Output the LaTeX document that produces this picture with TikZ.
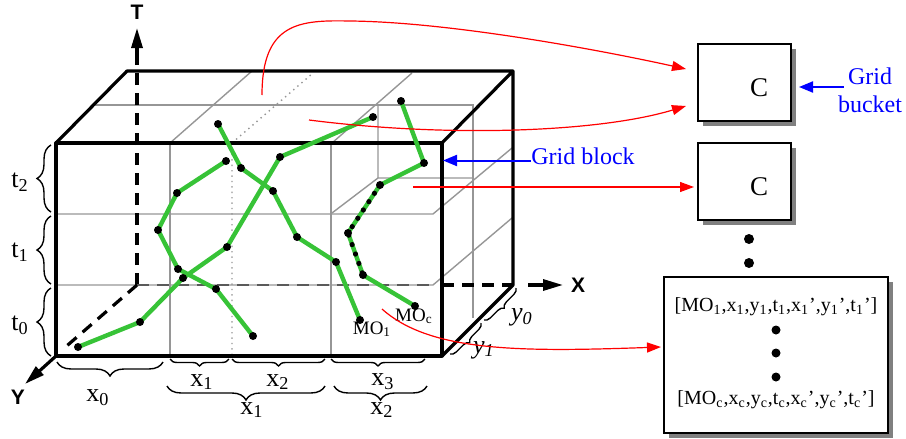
\documentclass[tikz,border=0pt]{standalone}
\usepackage{fontspec}
\setmainfont{Liberation Serif}
\setsansfont{Liberation Sans}
\usetikzlibrary{arrows.meta,decorations.pathreplacing,shadows}
\definecolor{movegreen}{RGB}{55,195,55}
\definecolor{gridgray}{RGB}{150,150,150}
\newcommand{\tsub}[1]{\textsubscript{#1}}

\begin{document}
\begin{tikzpicture}[x=0.5pt, y=-0.5pt,
        cube/.style={line width=1.6pt, line join=round},
        gridln/.style={draw=gridgray, line width=0.7pt},
        axisln/.style={line width=1.6pt, dash pattern=on 6pt off 4pt},
        axisarr/.style={line width=1.6pt, -{Triangle[length=10pt,width=5.5pt]}},
        trace/.style={draw=movegreen, line width=2.2pt, line join=round},
        redarr/.style={draw=red, line width=0.6pt, -{Triangle[length=7pt,width=5pt]}},
        bluearr/.style={draw=blue, line width=1pt, -{Triangle[length=7pt,width=5.5pt]}},
        bucket/.style={draw, line width=1pt, fill=white, minimum width=46.5pt,
                       minimum height=38.5pt, drop shadow={shadow xshift=2.5pt,
                       shadow yshift=-2.5pt, fill=black!50, opacity=1}},
        bracket/.style={decorate, decoration={brace, amplitude=#1}, line width=0.7pt},
        lbl/.style={inner sep=0pt, font=\fontsize{13}{15}\selectfont},
        axlbl/.style={inner sep=0pt, font=\sffamily\bfseries\fontsize{10.5}{12}\selectfont},
        bluelbl/.style={inner sep=0pt, text=blue, font=\fontsize{12}{14}\selectfont},
        molbl/.style={inner sep=0pt, font=\fontsize{9.5}{11}\selectfont},
        rec/.style={inner sep=0pt, font=\fontsize{10}{12}\selectfont},
        bigdot/.style={circle, fill=black, inner sep=0pt, minimum size=#1}]
    \useasboundingbox (0,0) rectangle (906,439);
    \coordinate (ftl) at (56,143);
    \coordinate (ftr) at (442,143);
    \coordinate (fbr) at (442,356);
    \coordinate (fbl) at (56,356);
    \coordinate (btl) at (127,71);
    \coordinate (btr) at (513,71);
    \coordinate (bbr) at (513,285);
    \coordinate (orig) at (137,285);
    \coordinate (blk) at (443,160.5);
    % grid planes
    \draw[gridln] (56,214) -- (433,214) -- (512,148);
    \draw[gridln] (56,285) -- (433,285) -- (512,218);
    \draw[gridln] (170,143) -- (170,356) (331,143) -- (331,356);
    \draw[gridln, dotted] (232,143) -- (232,356) (232,143) -- (313,73);
    \draw[gridln] (170,143) -- (252,71) (332,143) -- (412,73);
    \draw[gridln] (93,105) -- (473,105) -- (473,318);
    \draw[gridln] (378,105) -- (378,178) -- (473,178) (378,178) -- (332,213);
    % axes
    \draw[axisln] (orig) -- (137,52);
    \draw[axisarr] (137,54) -- (137,28);
    \draw[axisln, draw=gridgray!60!black, line width=1.2pt] (orig) -- (433,285);
    \draw[axisln] (442,285) -- (bbr);
    \draw[axisarr] (528,285) -- (563,285);
    \draw[axisln] (orig) -- (62,350);
    \draw[axisarr] (fbl) -- (25,384);
    \node[axlbl] (tlab) at (137,12) {T};
    \node[axlbl] (xlab) at (578,285) {X};
    \node[axlbl] (ylab) at (18,397) {Y};
    % cube
    \draw[cube] (ftl) rectangle (fbr);
    \draw[cube] (ftl) -- (btl) -- (btr) -- (ftr) (btr) -- (bbr) -- (fbr);
    % moving objects
    \foreach \nm/\px/\py in {a1/78/347, a2/140/322, a3/183/278, a4/227/247, a5/280/157, a6/373/117,
                             b1/226/161, b2/177/193, b3/158/230, b4/178/269, b5/216/289, b6/253/336,
                             c1/218/124, c2/241/168, c3/273/191, c4/297/237, c5/336/262, c6/360/320,
                             d1/401/101, d2/424/163, d3/380/185, d4/348/233, d5/363/275, d6/415/306}
        \coordinate (\nm) at (\px,\py);
    \draw[trace] (a1) -- (a2) -- (a3) -- (a4) -- (a5) -- (a6);
    \draw[trace] (b1) -- (b2) -- (b3) -- (b4) -- (b5) -- (b6);
    \draw[trace] (c1) -- (c2) -- (c3) -- (c4) -- (c5) -- (c6);
    \draw[trace] (d1) -- (d2) -- (d3) -- (d4) -- (d5) -- (d6);
    \draw[line width=2.6pt, line cap=round, dash pattern=on 0pt off 5pt] (d3) -- (d4) -- (d5);
    \foreach \nm in {a1,a2,a3,a4,a5,a6,b1,b2,b3,b4,b5,b6,c1,c2,c3,c4,c5,c6,d1,d2,d3,d4,d5,d6}
        \fill (\nm) circle (2pt);
    \node[molbl] (mo1) at (372,329) {MO\tsub{1}};
    \node[molbl] (moc) at (414,316) {MO\tsub{c}};
    % braces
    \draw[bracket=7pt] (51,212) -- (51,145);
    \draw[bracket=7pt] (51,284) -- (51,216);
    \draw[bracket=7pt] (51,356) -- (51,288);
    \draw[bracket=7pt] (163,362) -- (57,362);
    \draw[bracket=3.5pt] (229,359) -- (170,359);
    \draw[bracket=3.5pt] (325,359) -- (232,359);
    \draw[bracket=3.5pt] (425,359) -- (331,359);
    \draw[bracket=7pt] (325,386) -- (167,386);
    \draw[bracket=7pt] (427,386) -- (334,386);
    \draw[bracket=3pt] (516,288) -- (484,320);
    \draw[bracket=3pt] (481,323) -- (450,354);
    \node[lbl] (t2lab) at (20,182) {t\tsub{2}};
    \node[lbl] (t1lab) at (20,252) {t\tsub{1}};
    \node[lbl] (t0lab) at (20,325) {t\tsub{0}};
    \node[lbl] (x0lab) at (98,398) {x\tsub{0}};
    \node[lbl] (x1lab) at (202,382) {x\tsub{1}};
    \node[lbl] (x2lab) at (278,382) {x\tsub{2}};
    \node[lbl] (x3lab) at (383,382) {x\tsub{3}};
    \node[lbl] (x1big) at (252,410) {x\tsub{1}};
    \node[lbl] (x2big) at (382,410) {x\tsub{2}};
    \node[lbl] (y0lab) at (522,317) {\textit{y}\tsub{\textit{0}}};
    \node[lbl] (y1lab) at (484,350) {\textit{y}\tsub{\textit{1}}};
    % buckets
    \node[bucket] (bucketA) at (744.5,82.5) {};
    \node[bucket] (bucketB) at (744.5,181.5) {};
    \node[lbl, font=\fontsize{13.5}{15}\selectfont] (ca) at (759,88) {C};
    \node[lbl, font=\fontsize{13.5}{15}\selectfont] (cb) at (759,187) {C};
    \node[bigdot=5pt] (gap1) at (749,239) {};
    \node[bigdot=5pt] (gap2) at (749,263) {};
    \node[bucket, minimum width=112pt, minimum height=78pt] (records) at (776,355) {};
    \node[rec] (rec1) at (776,307) {[MO\tsub{1},x\tsub{1},y\tsub{1},t\tsub{1},x\tsub{1}’,y\tsub{1}’,t\tsub{1}’]};
    \node[bigdot=4.5pt] (rd1) at (776,330) {};
    \node[bigdot=4.5pt] (rd2) at (776,353) {};
    \node[bigdot=4.5pt] (rd3) at (776,377) {};
    \node[rec] (recc) at (776,400) {[MO\tsub{c},x\tsub{c},y\tsub{c},t\tsub{c},x\tsub{c}’,y\tsub{c}’,t\tsub{c}’]};
    % labels and arrows
    \node[bluelbl, anchor=west] (blocklbl) at (531,156) {Grid block};
    \node[bluelbl, align=center] (bucketlbl) at (870,90) {Grid\\bucket};
    \draw[bluearr] ([yshift=-2.25pt]blocklbl.west) -- (blk);
    \draw[bluearr] ([xshift=3pt,yshift=1.5pt]bucketlbl.west) -- ([xshift=3.5pt,yshift=-2.25pt]bucketA.east);
    \coordinate (ra) at (262,95);
    \coordinate (rb) at (309,120);
    \coordinate (rc) at (413,187);
    \coordinate (rd) at (382,309);
    \draw[redarr] (ra) .. controls (262,22) and (300,20) .. (350,21)
        .. controls (450,22) and (600,50) .. ([xshift=-5.5pt,yshift=6.75pt]bucketA.west);
    \draw[redarr] (rb) .. controls (450,138) and (600,132) .. ([xshift=-5.5pt,yshift=-11.75pt]bucketA.west);
    \draw[redarr] (rc) -- ([xshift=-1.5pt,yshift=-2.75pt]bucketB.west);
    \draw[redarr] (rd) .. controls (430,352) and (520,352) .. ([xshift=-1pt,yshift=4pt]records.west);
\end{tikzpicture}
\end{document}
